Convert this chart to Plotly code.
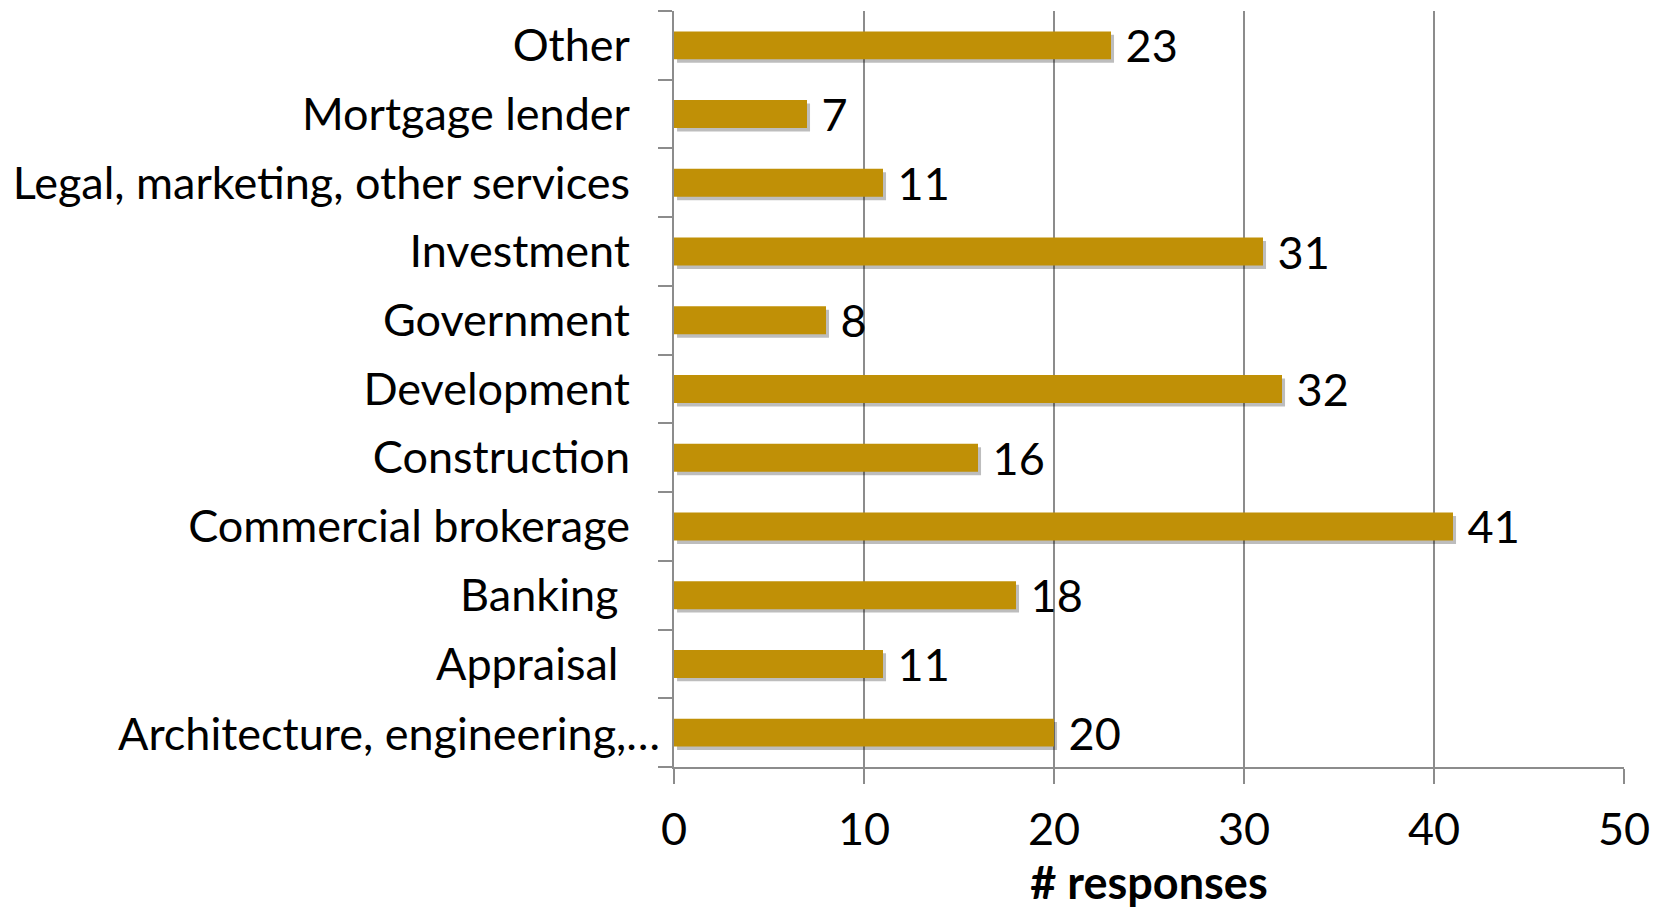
import plotly.graph_objects as go

# Survey responses by industry sector (bottom to top)
categories = [
    "Architecture, engineering,\u2026",
    "Appraisal\u00a0",
    "Banking\u00a0",
    "Commercial brokerage",
    "Construction",
    "Development",
    "Government",
    "Investment",
    "Legal, marketing, other services",
    "Mortgage lender",
    "Other",
]
responses = [20, 11, 18, 41, 16, 32, 8, 31, 11, 7, 23]
x_ticks = [0, 10, 20, 30, 40, 50]

BAR = "#C09006"
GRID = "#8c8c8c"
FONT = "Lato"
FS = 45

# the truncated first label sits closer to the axis than the others,
# so it is drawn as an annotation and left blank among the tick labels
tick_text = [""] + categories[1:]

fig = go.Figure()

# base axes carry the categories and the visible ticks; the bars themselves
# are drawn on overlaid axes so the shadow can sit beneath them
fig.add_trace(go.Bar(
    x=responses, y=categories, orientation="h",
    marker=dict(color=BAR, opacity=0, line=dict(width=0)),
    hoverinfo="skip", showlegend=False,
))

# soft drop shadow: same bars on a slightly shifted axis pair
fig.add_trace(go.Bar(
    x=responses, y=categories, orientation="h",
    marker=dict(color="rgba(0,0,0,0.26)", line=dict(width=0)),
    xaxis="x2", yaxis="y2", hoverinfo="skip", showlegend=False,
))

fig.add_trace(go.Bar(
    x=responses, y=categories, orientation="h",
    marker=dict(color=BAR, line=dict(width=0)),
    text=responses, texttemplate="\u00a0%{x}", textposition="outside",
    constraintext="none",
    textfont=dict(family=FONT, size=FS, color="black"),
    cliponaxis=False, showlegend=False,
    xaxis="x3", yaxis="y3",
))

fig.add_annotation(
    text=categories[0], xref="paper", x=0, yref="y", y=categories[0],
    xanchor="right", yanchor="middle", xshift=-12, showarrow=False,
    font=dict(family=FONT, size=FS, color="black"),
)

cat_axis = dict(categoryorder="array", categoryarray=categories,
                visible=False, fixedrange=True)

fig.update_layout(
    width=1665, height=909,
    margin=dict(l=674, r=41, t=11, b=142),
    paper_bgcolor="white", plot_bgcolor="white",
    bargap=0.593,
    font=dict(family=FONT, size=FS, color="black"),
    xaxis=dict(
        range=[0, 50], tickvals=x_ticks, automargin=False,
        showgrid=True, gridcolor=GRID, gridwidth=1.5,
        showline=True, linecolor=GRID, linewidth=2,
        ticks="outside", ticklen=15, tickcolor=GRID, tickwidth=2,
        ticklabelstandoff=7,
        tickfont=dict(size=FS), zeroline=False,
        title=dict(text="<b># responses</b>", font=dict(size=FS), standoff=17),
        fixedrange=True,
    ),
    yaxis=dict(
        categoryorder="array", categoryarray=categories,
        tickmode="array", tickvals=categories, ticktext=tick_text,
        automargin=False,
        showline=True, linecolor=GRID, linewidth=2,
        ticks="outside", tickson="boundaries", ticklen=14,
        tickcolor=GRID, tickwidth=2,
        showgrid=False, ticklabelstandoff=33,
        tickfont=dict(size=FS), fixedrange=True,
    ),
    xaxis2=dict(overlaying="x", range=[-0.16, 49.84], visible=False,
                fixedrange=True),
    yaxis2=dict(overlaying="y", range=[-0.45, 10.55], **cat_axis),
    xaxis3=dict(overlaying="x", range=[0, 50], visible=False,
                fixedrange=True),
    yaxis3=dict(overlaying="y", range=[-0.5, 10.5], **cat_axis),
)

fig.write_html("out.html")
